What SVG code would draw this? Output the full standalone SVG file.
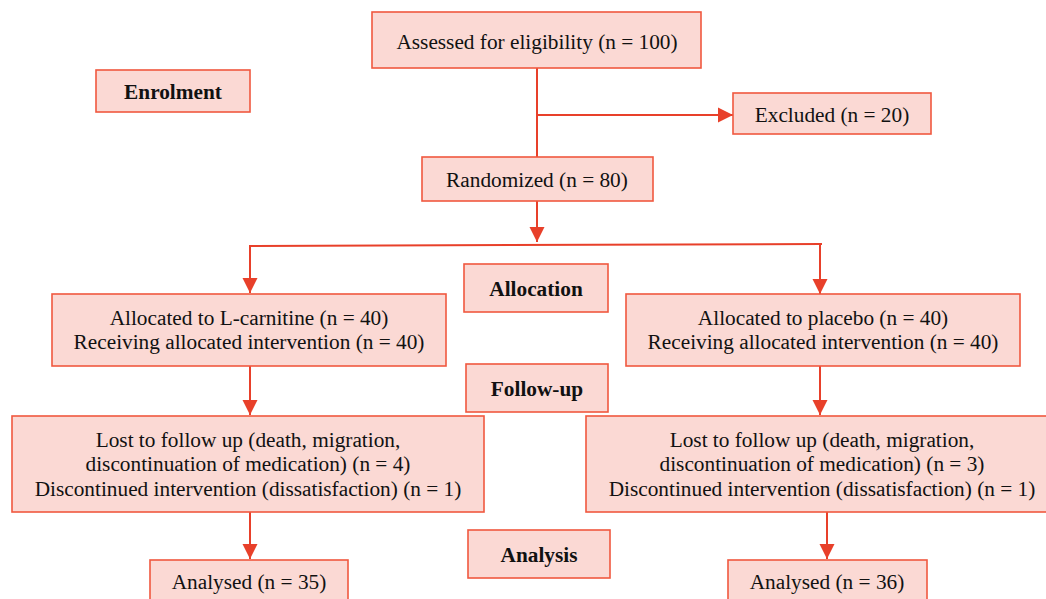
<svg xmlns="http://www.w3.org/2000/svg" width="1046" height="599" viewBox="0 0 1046 599">
<style>
.box{fill:#fbd9d4;stroke:#f0583f;stroke-width:1.6}
.t{font-family:"Liberation Serif","Times New Roman",serif;font-size:21.3px;fill:#111;text-anchor:middle}
.b{font-weight:bold}
.c{fill:none;stroke:#e8402a;stroke-width:2}
</style>
<defs>
<marker id="ah" markerUnits="userSpaceOnUse" markerWidth="16" markerHeight="16" viewBox="0 0 16 16" refX="15" refY="8" orient="auto">
<path d="M0,0.5 L15,8 L0,15.5 Z" fill="#e8402a"/>
</marker>
</defs>
<rect width="1046" height="599" fill="#fff"/>
<g id="connectors">
<path class="c" d="M537,68 V157"/>
<path class="c" d="M537,115 H733" marker-end="url(#ah)"/>
<path class="c" d="M537,201 V242" marker-end="url(#ah)"/>
<path class="c" d="M250,256 V246 L822,244"/>
<path class="c" d="M250,246 V293" marker-end="url(#ah)"/>
<path class="c" d="M820,244 V294" marker-end="url(#ah)"/>
<path class="c" d="M250,366 V415" marker-end="url(#ah)"/>
<path class="c" d="M820,366 V415" marker-end="url(#ah)"/>
<path class="c" d="M250,512 V559" marker-end="url(#ah)"/>
<path class="c" d="M827,512 V559" marker-end="url(#ah)"/>
</g>
<g id="assessed"><rect class="box" x="372" y="12" width="329" height="56"/><text class="t" x="537" y="49">Assessed for eligibility (n = 100)</text></g>
<g id="enrolment"><rect class="box" x="96" y="70" width="154" height="42"/><text class="t b" x="173" y="99">Enrolment</text></g>
<g id="excluded"><rect class="box" x="733" y="93" width="198" height="41"/><text class="t" x="832" y="122">Excluded (n = 20)</text></g>
<g id="randomized"><rect class="box" x="422" y="157" width="231" height="44"/><text class="t" x="537" y="187">Randomized (n = 80)</text></g>
<g id="allocation"><rect class="box" x="464" y="264" width="144" height="48"/><text class="t b" x="536" y="296">Allocation</text></g>
<g id="alloc-lcarnitine"><rect class="box" x="52" y="294" width="394" height="72"/><text class="t" x="249" y="325">Allocated to L-carnitine (n = 40)</text><text class="t" x="249" y="349">Receiving allocated intervention (n = 40)</text></g>
<g id="alloc-placebo"><rect class="box" x="626" y="294" width="394" height="72"/><text class="t" x="823" y="325">Allocated to placebo (n = 40)</text><text class="t" x="823" y="349">Receiving allocated intervention (n = 40)</text></g>
<g id="followup"><rect class="box" x="466" y="364" width="142" height="48"/><text class="t b" x="537" y="396">Follow-up</text></g>
<g id="lost-lcarnitine"><rect class="box" x="12" y="416" width="472" height="96"/><text class="t" x="248" y="447">Lost to follow up (death, migration,</text><text class="t" x="248" y="471">discontinuation of medication) (n = 4)</text><text class="t" x="248" y="496">Discontinued intervention (dissatisfaction) (n = 1)</text></g>
<g id="lost-placebo"><rect class="box" x="586" y="416" width="470" height="96"/><text class="t" x="822" y="447">Lost to follow up (death, migration,</text><text class="t" x="822" y="471">discontinuation of medication) (n = 3)</text><text class="t" x="822" y="496">Discontinued intervention (dissatisfaction) (n = 1)</text></g>
<g id="analysis"><rect class="box" x="468" y="530" width="142" height="48"/><text class="t b" x="539" y="562">Analysis</text></g>
<g id="analysed-lcarnitine"><rect class="box" x="150" y="560" width="198" height="50"/><text class="t" x="249" y="589">Analysed (n = 35)</text></g>
<g id="analysed-placebo"><rect class="box" x="728" y="560" width="199" height="50"/><text class="t" x="827" y="589">Analysed (n = 36)</text></g>
</svg>
